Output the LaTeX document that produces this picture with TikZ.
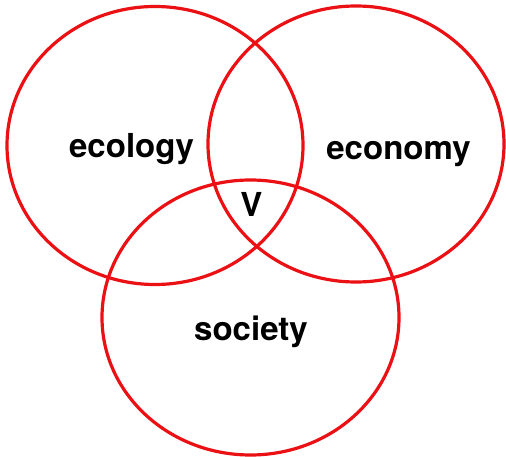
\documentclass[tikz,border=0pt]{standalone}
\usepackage{fontspec}
\setmainfont{TeX Gyre Heros}
\usepackage{tikz}
\definecolor{ringred}{RGB}{235,16,20}
\tikzset{
	ring/.style={line width=3.2pt, color=ringred},
	word/.style={font=\fontsize{33}{36}\selectfont\bfseries, inner sep=0pt, anchor=base}
}

\begin{document}
\begin{tikzpicture}[x=1pt, y=-1pt]
			%%%%% START %%%%%
			
			\useasboundingbox (0, 0) rectangle (506, 457);
			
			\draw[ring] (155, 145.5) ellipse [x radius=148pt, y radius=139pt];
			\draw[ring] (356, 144) ellipse [x radius=148pt, y radius=138pt];
			\draw[ring] (250.5, 317.5) ellipse [x radius=148.5pt, y radius=137.5pt];
			
			\node[word] (ecology) at (131.5, 157.5) {ecology};
			\node[word] (economy) at (398.5, 159.5) {economy};
			\node[word] (society) at (251, 340) {society};
			\node[word] (vpoint) at (251.5, 217) {V};
			
			%%%%% END %%%%%
\end{tikzpicture}
\end{document}
